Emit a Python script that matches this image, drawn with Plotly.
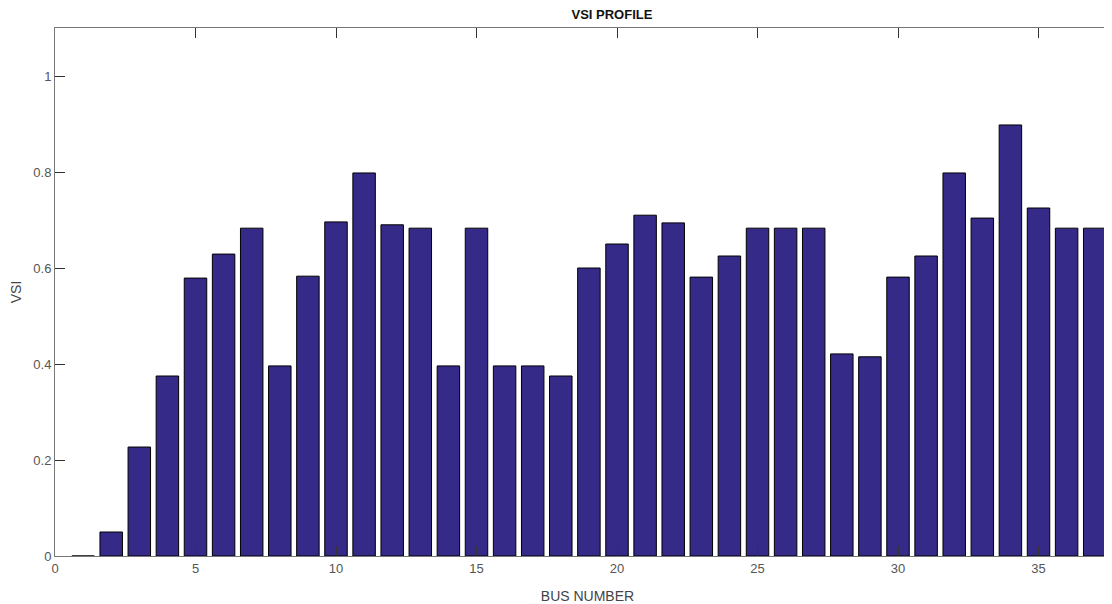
import plotly.graph_objects as go

bus = list(range(1, 38))
vsi = [0.0, 0.05, 0.227, 0.375, 0.579, 0.629, 0.683, 0.396, 0.583, 0.696,
       0.798, 0.69, 0.683, 0.396, 0.683, 0.396, 0.396, 0.375, 0.6, 0.65,
       0.71, 0.694, 0.581, 0.625, 0.683, 0.683, 0.683, 0.421, 0.415, 0.581,
       0.625, 0.798, 0.704, 0.898, 0.725, 0.683, 0.683]
x_ticks = [0, 5, 10, 15, 20, 25, 30, 35]
y_ticks = [0, 0.2, 0.4, 0.6, 0.8, 1]
y_tick_text = ["0", "0.2", "0.4", "0.6", "0.8", "1"]

fig = go.Figure(go.Bar(
    x=bus, y=vsi, width=0.8,
    marker=dict(color="#352A87", line=dict(color="black", width=1)),
))

font = dict(family="Liberation Sans, Arial, sans-serif", size=12, color="#444")
fig.update_layout(
    width=1112, height=604,
    margin=dict(l=47, r=0, t=20, b=56),
    plot_bgcolor="white", paper_bgcolor="white",
    showlegend=False,
    font=font,
    title=dict(text="<b>VSI PROFILE</b>", x=(589.5 - 8) / 1112, xanchor="center", xref="paper",
               y=1 - 2 / 604, yanchor="top", yref="container", pad=dict(t=0, b=0),
               font=dict(family="Liberation Sans, Arial, sans-serif", size=13, color="#111")),
)
fig.update_xaxes(
    range=[0, 37.9], tickvals=x_ticks, ticks="inside", ticklen=10,
    tickcolor="#333", showline=True, linecolor="#777", linewidth=1,
    mirror="ticks", showgrid=False, zeroline=False,
    title=dict(text="BUS NUMBER", standoff=16, font=dict(size=14, color="#444")),
    tickfont=dict(size=13, color="#555"),
)
fig.update_yaxes(
    range=[0, 1.1], tickvals=y_ticks, ticktext=y_tick_text, ticks="inside", ticklen=10,
    tickcolor="#333", showline=True, linecolor="#777", linewidth=1,
    showgrid=False, zeroline=False,
    title=dict(text="VSI", standoff=10, font=dict(size=14, color="#444")),
    tickfont=dict(size=13, color="#555"),
)
fig.write_html("out.html")
